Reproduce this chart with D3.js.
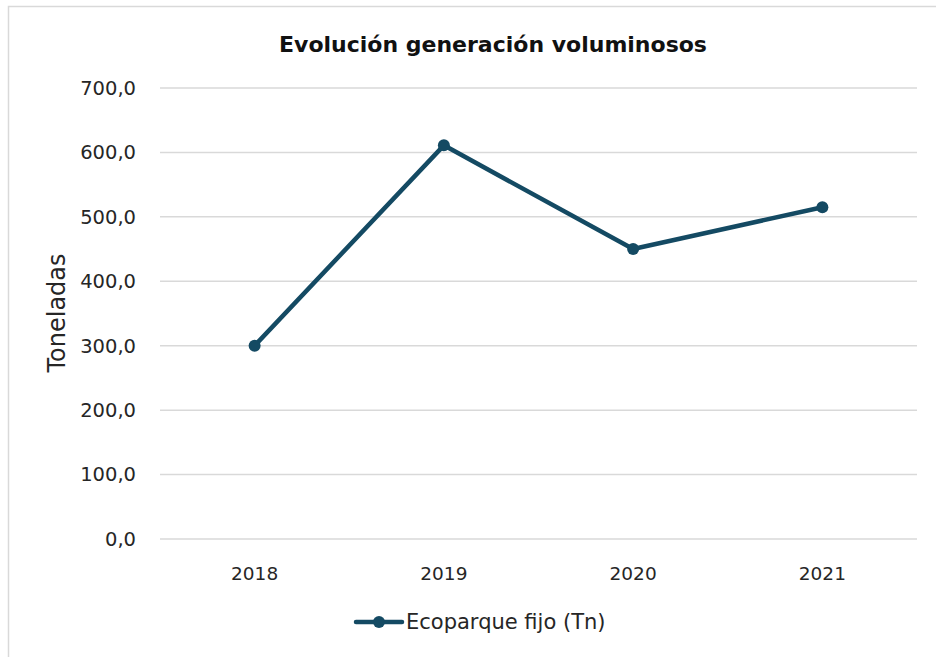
<!DOCTYPE html>
<html><head><meta charset="utf-8">
<script src="https://cdn.jsdelivr.net/npm/d3@7"></script>
<style>body{margin:0;background:#fff}svg{display:block}</style>
</head><body><svg id="c" width="936" height="657"></svg>
<script>
const categories = ["2018","2019","2020","2021"];
const values = [300, 611, 450, 515];
const yTicks = [0,100,200,300,400,500,600,700];
const seriesName = "Ecoparque fijo (Tn)";
const title = "Evolución generación voluminosos";
const yLabel = "Toneladas";

const svg = d3.select("#c");
const font = "'DejaVu Sans', sans-serif";
const color = "#144a63";
// border
svg.append("path").attr("d","M8.5,657 V6.5 H936").attr("fill","none").attr("stroke","#d9d9d9").attr("stroke-width",1.5);

const x = d3.scaleBand().domain(categories).range([160,917]);
const y = d3.scaleLinear().domain([0,700]).range([539,88]);

svg.append("g").selectAll("line").data(yTicks).join("line")
 .attr("x1",160).attr("x2",917).attr("y1",d=>y(d)).attr("y2",d=>y(d))
 .attr("stroke","#d9d9d9").attr("stroke-width",1.5);

const fmt = d=>d.toFixed(1).replace(".",",");
svg.append("g").selectAll("text").data(yTicks).join("text")
 .attr("x",136).attr("y",d=>y(d)).attr("dy","0.35em").attr("text-anchor","end")
 .attr("font-family",font).attr("font-size",19.5).attr("fill","#262626").text(fmt);

svg.append("g").selectAll("text").data(categories).join("text")
 .attr("x",d=>x(d)+x.bandwidth()/2).attr("y",574).attr("dy","0.35em").attr("text-anchor","middle")
 .attr("font-family",font).attr("font-size",18.5).attr("fill","#262626").text(d=>d);

svg.append("text").attr("transform","translate(57,313) rotate(-90)").attr("text-anchor","middle")
 .attr("dy","0.35em").attr("font-family",font).attr("font-size",24).attr("fill","#262626").text(yLabel);

svg.append("text").attr("x",493).attr("y",44).attr("dy","0.35em").attr("text-anchor","middle")
 .attr("font-family",font).attr("font-weight","bold").attr("font-size",22).attr("fill","#111").text(title);

const line = d3.line().x((d,i)=>x(categories[i])+x.bandwidth()/2).y(d=>y(d));
svg.append("path").datum(values).attr("d",line).attr("fill","none").attr("stroke",color).attr("stroke-width",4.5).attr("stroke-linejoin","round");
svg.append("g").selectAll("circle").data(values).join("circle")
 .attr("cx",(d,i)=>x(categories[i])+x.bandwidth()/2).attr("cy",d=>y(d)).attr("r",6).attr("fill",color);

// legend
const lg = svg.append("g");
lg.append("line").attr("x1",356).attr("x2",402).attr("y1",622).attr("y2",622).attr("stroke",color).attr("stroke-width",4.5).attr("stroke-linecap","round");
lg.append("circle").attr("cx",379).attr("cy",622).attr("r",6).attr("fill",color);
lg.append("text").attr("x",406).attr("y",622).attr("dy","0.35em").attr("font-family",font).attr("font-size",21).attr("fill","#262626").text(seriesName);
</script></body></html>
